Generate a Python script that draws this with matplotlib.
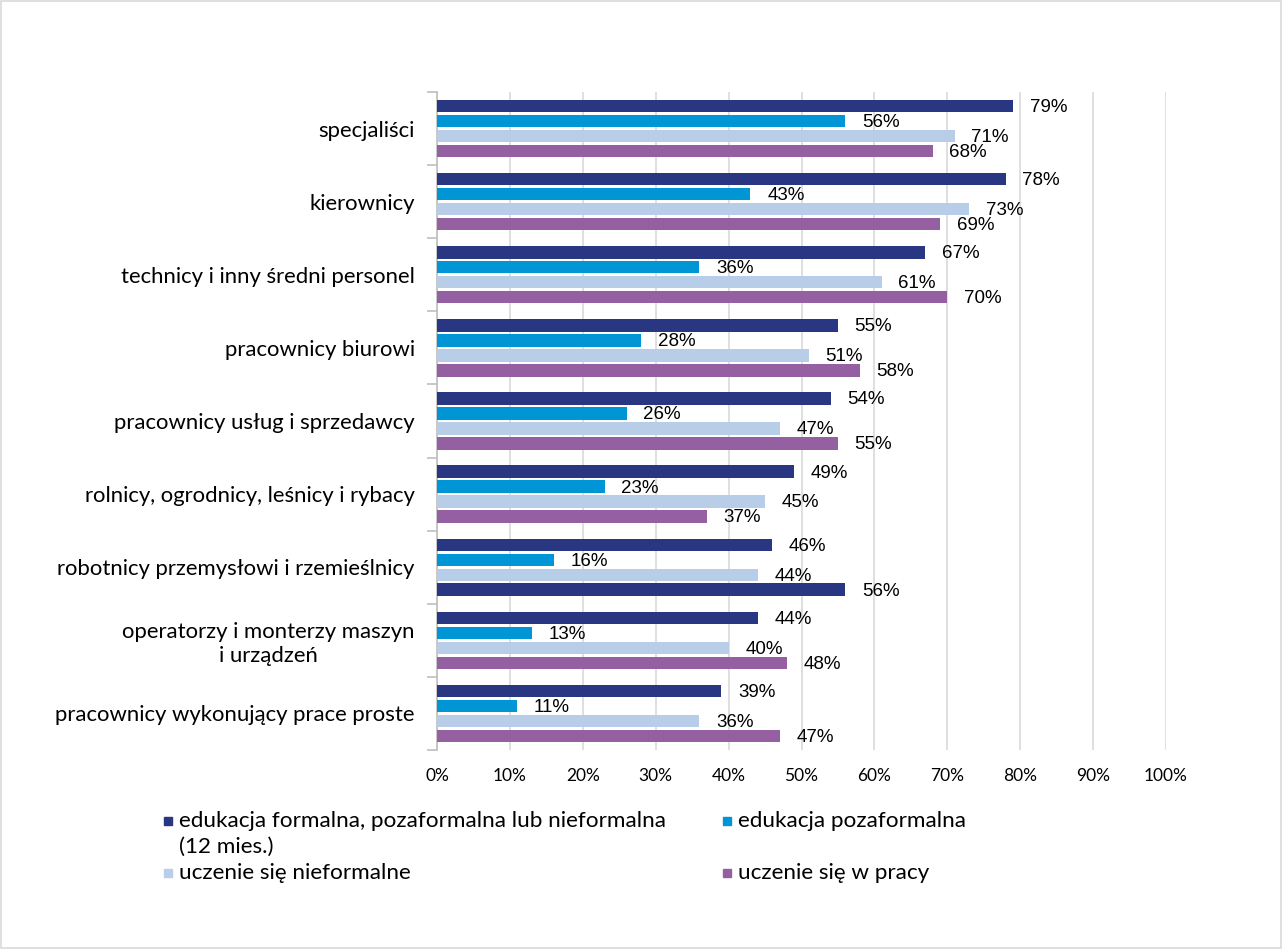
import numpy as np
import matplotlib
matplotlib.use("Agg")
import matplotlib.pyplot as plt
from matplotlib.patches import Rectangle

plt.rcParams['font.family'] = ['Lato', 'DejaVu Sans']

# data
categories = [
    "specjaliści",
    "kierownicy",
    "technicy i inny średni personel",
    "pracownicy biurowi",
    "pracownicy usług i sprzedawcy",
    "rolnicy, ogrodnicy, leśnicy i rybacy",
    "robotnicy przemysłowi i rzemieślnicy",
    "operatorzy i monterzy maszyn\ni urządzeń",
    "pracownicy wykonujący prace proste",
]
series_names = [
    "edukacja formalna, pozaformalna lub nieformalna\n(12 mies.)",
    "edukacja pozaformalna",
    "uczenie się nieformalne",
    "uczenie się w pracy",
]
formal_any = [79, 78, 67, 55, 54, 49, 46, 44, 39]
non_formal = [56, 43, 36, 28, 26, 23, 16, 13, 11]
informal = [71, 73, 61, 51, 47, 45, 44, 40, 36]
at_work = [68, 69, 70, 58, 55, 37, 56, 48, 47]
series = [formal_any, non_formal, informal, at_work]
colors = ["#293682", "#0096D6", "#B8CEE8", "#9460A1"]

W, H = 1282, 949
fig = plt.figure(figsize=(W / 100, H / 100), dpi=100)
fig.patches.append(Rectangle((0.001, 0.001), 0.998, 0.998, transform=fig.transFigure,
                             fill=False, edgecolor="#d9d9d9", linewidth=1.2))

ax = fig.add_axes([437 / W, 1 - 750 / H, (1166 - 437) / W, (750 - 92) / H])

y = np.arange(len(categories))
slot = 0.205
bh = 0.17
for j, vals in enumerate(series):
    pos = y - 1.5 * slot + j * slot
    cols = [colors[j]] * len(vals)
    if j == 3:
        # in the source the 'robotnicy' work-learning bar is drawn in navy
        cols[6] = colors[0]
    ax.barh(pos, np.array(vals) / 100, height=bh, color=cols, zorder=3)
    for p, v in zip(pos, vals):
        ax.annotate(f"{v}%", (v / 100, p), xytext=(12, -1), textcoords="offset points",
                    ha="left", va="center", fontsize=13.5,
                    family=['Liberation Sans', 'DejaVu Sans'], color="#000000")

ax.set_xlim(0, 1)
ax.set_ylim(len(categories) - 0.5, -0.5)
ax.set_xticks(np.arange(0, 1.01, 0.1))
ax.set_xticklabels([f"{int(round(t * 100))}%" for t in np.arange(0, 1.01, 0.1)])
ax.tick_params(axis="x", length=0, pad=13, labelsize=12.5)
ax.grid(axis="x", color="#d9d9d9", linewidth=1.2, zorder=0)

ax.set_yticks(y)
ax.set_yticklabels(categories, multialignment="center")
ax.tick_params(axis="y", which="major", length=0, pad=16, labelsize=15.9)
ax.set_yticks(np.arange(-0.5, len(categories)), minor=True)
ax.tick_params(axis="y", which="minor", length=7, color="#bfbfbf", width=1.2)

for s in ["top", "right", "bottom"]:
    ax.spines[s].set_visible(False)
ax.spines["left"].set_color("#bfbfbf")
ax.spines["left"].set_linewidth(1.2)

# legend
leg_pos = [(168, 821), (727, 821), (168, 873), (727, 873)]
for (lx, ly), name, c in zip(leg_pos, series_names, colors):
    fig.patches.append(Rectangle(((lx - 4) / W, 1 - (ly + 4) / H), 8 / W, 8 / H,
                                 transform=fig.transFigure, color=c))
    fig.text((lx + 11) / W, 1 - ly / H, name.split("\n")[0], ha="left", va="center",
             fontsize=16.2)
    if "\n" in name:
        fig.text((lx + 11) / W, 1 - (ly + 26) / H, name.split("\n")[1], ha="left",
                 va="center", fontsize=16.2)

fig.savefig("out.png", dpi=100)
